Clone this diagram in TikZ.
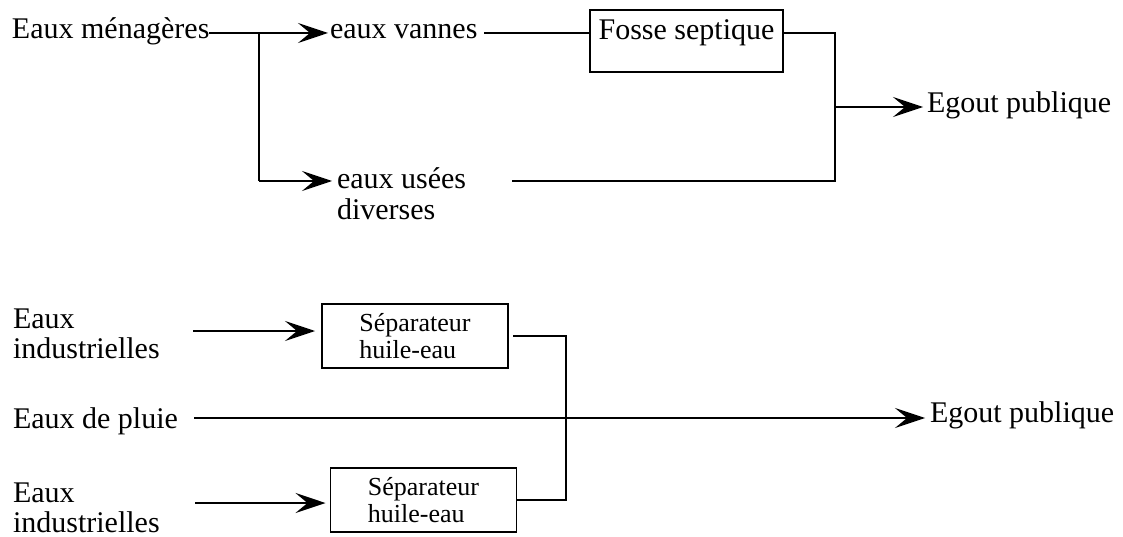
\documentclass[tikz,border=0pt]{standalone}
\usepackage{fontspec}
\setmainfont{Liberation Serif}
\usetikzlibrary{arrows.meta}
\begin{document}
\begin{tikzpicture}[x=1pt,y=-1pt,
  line width=1.6pt,
  lbl/.style={inner sep=0pt, outer sep=0pt, font=\fontsize{30}{30}\selectfont},
  ml/.style={lbl, align=left},
  sepbox/.style={draw, line width=1.8pt, minimum width=186pt, minimum height=64pt, inner sep=0pt, outer sep=0pt, align=left, font=\fontsize{26}{27}\selectfont},
  fossebox/.style={draw, line width=1.8pt, minimum width=193pt, inner xsep=0pt, inner ysep=9pt, outer sep=0pt, text height=21pt, text depth=23pt, font=\fontsize{30}{30}\selectfont},
  arr/.style={-{Stealth[length=30pt,width=20pt,inset=12pt]}},
]
\useasboundingbox (0,0) rectangle (1123,537);

% ---------- upper diagram ----------
\node[lbl, anchor=west] (men) at (12,33) {\strut Eaux ménagères};
\node[lbl, anchor=west] (van) at (330,33) {\strut eaux vannes};
\node[ml, anchor=north west] (use) at (337,168) {\strut eaux usées\\\strut diverses};
\node[fossebox, anchor=north west] (fos) at (590,10) {Fosse septique};
\node[lbl, anchor=west] (eg1) at (927,107) {\strut Egout publique};

\coordinate (jt) at (259,33);
\coordinate (jb) at (259,181);
\coordinate (ve) at (484,33);
\coordinate (rt) at (835,33);
\coordinate (rb) at (835,181);
\coordinate (rm) at (835,107);
\coordinate (ue) at (512,181);

\draw[arr, shorten >=2pt] (men.east) -- (van.west);
\draw (jt) -- (jb);
\draw[arr, shorten >=5pt] (jb) -- (jb -| use.west);
\draw (ve) -- (ve -| fos.west);
\draw (fos.east |- ve) -- (rt) -- (rb) -- (ue);
\draw[arr, shorten >=4pt] (rm) -- (eg1.west);

% ---------- lower diagram ----------
\node[ml, anchor=north west] (ind1) at (13,307) {\strut Eaux\\\strut industrielles};
\node[lbl, anchor=west] (plu) at (13,422) {\strut Eaux de pluie};
\node[ml, anchor=north west] (ind2) at (13,481) {\strut Eaux\\industrielles};
\node[sepbox] (s1) at (415,336) {Séparateur\\huile-eau};
\node[sepbox] (s2) at (423.5,500) {Séparateur\\huile-eau};
\node[lbl, anchor=west] (eg2) at (930,416) {\strut Egout publique};

\coordinate (a1) at (193,331);
\coordinate (a2) at (195,503);
\coordinate (p1) at (194,418);
\coordinate (vx) at (566,0);

\draw[arr, shorten >=7pt] (a1) -- (a1 -| s1.west);
\draw[arr, shorten >=5pt] (a2) -- (a2 -| s2.west);
\draw[arr, shorten >=5pt] (p1) -- (p1 -| eg2.west);
\draw ([xshift=5pt]s1.east) -- (s1.east -| vx) -- (s2.east -| vx) -- (s2.east);
\end{tikzpicture}
\end{document}
